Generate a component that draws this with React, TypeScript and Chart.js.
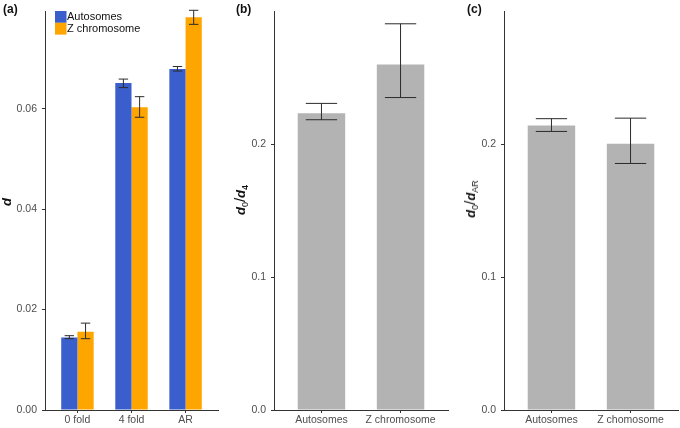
import { useEffect, useRef } from 'react'
import { Chart, registerables } from 'chart.js'

Chart.register(...registerables)

// panel (a): divergence d per site class
const foldCategories = ['0 fold', '4 fold', 'AR']
const autosomeD = [0.01445, 0.0651, 0.0679]
const autosomeLow = [0.0142, 0.0642, 0.0675]
const autosomeHigh = [0.0148, 0.0659, 0.0684]
const zChromD = [0.01557, 0.0603, 0.0782]
const zChromLow = [0.0142, 0.0583, 0.0768]
const zChromHigh = [0.0173, 0.0624, 0.0796]
const dTicks = [0, 0.02, 0.04, 0.06]

// panel (b): d0/d4
const ratio4Categories = ['Autosomes', 'Z chromosome']
const ratio4 = [0.2233, 0.2599]
const ratio4Low = [0.2184, 0.2351]
const ratio4High = [0.2307, 0.2906]

// panel (c): d0/dAR
const ratioARCategories = ['Autosomes', 'Z chomosome']
const ratioAR = [0.214, 0.2004]
const ratioARLow = [0.2096, 0.1855]
const ratioARHigh = [0.2192, 0.2196]

const ratioTicks = [0, 0.1, 0.2]

const BLUE = '#3A5FCD'
const ORANGE = '#FFA500'
const GREY = '#B3B3B3'
const FONT = '"Liberation Sans", Arial, sans-serif'

interface Series {
  label: string
  color: string
  values: number[]
  low: number[]
  high: number[]
}

interface PanelProps {
  left: number
  width: number
  yAxisWidth: number
  padRight: number
  categories: string[]
  series: Series[]
  yMax: number
  yTicks: number[]
  decimals: number
  capRatio: number
  legend?: boolean
}

const Panel = ({ left, width, yAxisWidth, padRight, categories, series, yMax, yTicks, decimals, capRatio, legend }: PanelProps) => {
  const canvasRef = useRef<HTMLCanvasElement>(null)

  useEffect(() => {
    if (!canvasRef.current) return

    const errorBars = {
      id: 'errorBars',
      afterDatasetsDraw(chart: any) {
        const { ctx } = chart
        const yScale = chart.scales.y
        ctx.save()
        ctx.strokeStyle = '#2b2b2b'
        ctx.lineWidth = 1
        series.forEach((s, di) => {
          const meta = chart.getDatasetMeta(di)
          meta.data.forEach((bar: any, i: number) => {
            const half = bar.width * capRatio
            const y1 = yScale.getPixelForValue(s.low[i])
            const y2 = yScale.getPixelForValue(s.high[i])
            ctx.beginPath()
            ctx.moveTo(bar.x, y1)
            ctx.lineTo(bar.x, y2)
            ctx.moveTo(bar.x - half, y1)
            ctx.lineTo(bar.x + half, y1)
            ctx.moveTo(bar.x - half, y2)
            ctx.lineTo(bar.x + half, y2)
            ctx.stroke()
          })
        })
        ctx.restore()
      },
    }

    const insetLegend = {
      id: 'insetLegend',
      afterDraw(chart: any) {
        if (!legend) return
        const { ctx } = chart
        const box = 11.8
        ctx.save()
        ctx.font = `11px ${FONT}`
        ctx.textBaseline = 'middle'
        chart.data.datasets.forEach((ds: any, i: number) => {
          const y = 11 + i * box
          ctx.fillStyle = ds.backgroundColor
          ctx.fillRect(55, y, 11.5, box)
          ctx.fillStyle = '#111'
          ctx.fillText(ds.label, 67, y + box / 2 + 0.5)
        })
        ctx.restore()
      },
    }

    const chart = new Chart(canvasRef.current, {
      type: 'bar',
      data: {
        datasets: series.map((s) => ({
          label: s.label,
          data: categories.map((_, i) => ({ x: i + 1, y: s.values[i] })),
          backgroundColor: s.color,
          borderWidth: 0,
          categoryPercentage: 0.6,
          barPercentage: 1,
        })),
      },
      options: {
        animation: false,
        responsive: true,
        maintainAspectRatio: false,
        layout: { padding: { top: 3, right: padRight, left: 0, bottom: 0 } },
        plugins: {
          legend: { display: false },
          tooltip: { enabled: false },
        },
        scales: {
          x: {
            type: 'linear',
            offset: false,
            min: 0.4,
            max: categories.length + 0.6,
            afterBuildTicks: (scale: any) => {
              scale.ticks = categories.map((_, i) => ({ value: i + 1 }))
            },
            afterFit: (scale: any) => {
              scale.height = 18
            },
            grid: { display: true, offset: false, drawOnChartArea: false, drawTicks: true, tickLength: 3, color: '#333' },
            border: { display: true, color: '#333', width: 1 },
            ticks: {
              padding: 1,
              color: '#4D4D4D',
              font: { family: FONT, size: 10.5 },
              maxRotation: 0,
              autoSkip: false,
              callback: (v: any) => categories[Math.round(v) - 1] ?? '',
            },
          },
          y: {
            min: 0,
            max: yMax,
            afterBuildTicks: (scale: any) => {
              scale.ticks = yTicks.map((v) => ({ value: v }))
            },
            afterFit: (scale: any) => {
              scale.width = yAxisWidth
            },
            grid: { display: true, drawOnChartArea: false, drawTicks: true, tickLength: 3, color: '#333' },
            border: { display: true, color: '#333', width: 1 },
            ticks: {
              padding: 5,
              color: '#4D4D4D',
              font: { family: FONT, size: 10.5 },
              callback: (v: any) => Number(v).toFixed(decimals),
            },
          },
        },
      },
      plugins: [errorBars, insetLegend],
    })

    return () => chart.destroy()
  }, [])

  return (
    <div style={{ position: 'absolute', left, top: 0, width, height: 428 }}>
      <canvas ref={canvasRef}></canvas>
    </div>
  )
}

const tagStyle: React.CSSProperties = {
  position: 'absolute',
  top: 2,
  fontFamily: FONT,
  fontWeight: 'bold',
  fontSize: 12,
  color: '#111',
}

const titleStyle = (cx: number, cy: number): React.CSSProperties => ({
  position: 'absolute',
  left: cx,
  top: cy,
  transform: 'translate(-50%, -50%) rotate(-90deg)',
  whiteSpace: 'nowrap',
  fontFamily: FONT,
  fontSize: 13,
  color: '#111',
  lineHeight: 1,
})

const D = () => <b><i>d</i></b>
const subStyle: React.CSSProperties = { fontSize: 9, verticalAlign: '-3px' }

const App = () => {
  return (
    <div style={{ position: 'absolute', left: 0, top: 0, width: 680, height: 428, background: '#fff', overflow: 'hidden' }}>
      <Panel
        left={0}
        width={225}
        yAxisWidth={45}
        padRight={7}
        categories={foldCategories}
        series={[
          { label: 'Autosomes', color: BLUE, values: autosomeD, low: autosomeLow, high: autosomeHigh },
          { label: 'Z chromosome', color: ORANGE, values: zChromD, low: zChromLow, high: zChromHigh },
        ]}
        yMax={0.0794}
        yTicks={dTicks}
        decimals={2}
        capRatio={0.29}
        legend
      />
      <Panel
        left={228}
        width={224}
        yAxisWidth={46}
        padRight={4}
        categories={ratio4Categories}
        series={[{ label: 'd0/d4', color: GREY, values: ratio4, low: ratio4Low, high: ratio4High }]}
        yMax={0.3}
        yTicks={ratioTicks}
        decimals={1}
        capRatio={0.33}
      />
      <Panel
        left={458}
        width={222}
        yAxisWidth={46}
        padRight={2}
        categories={ratioARCategories}
        series={[{ label: 'd0/dAR', color: GREY, values: ratioAR, low: ratioARLow, high: ratioARHigh }]}
        yMax={0.3}
        yTicks={ratioTicks}
        decimals={1}
        capRatio={0.33}
      />

      <div style={{ ...tagStyle, left: 3 }}>(a)</div>
      <div style={{ ...tagStyle, left: 236 }}>(b)</div>
      <div style={{ ...tagStyle, left: 467 }}>(c)</div>

      <div style={titleStyle(6, 202)}>
        <D />
      </div>
      <div style={titleStyle(241, 200)}>
        <D />
        <span style={subStyle}>0</span>
        <span style={{ fontSize: 15 }}>/</span>
        <D />
        <span style={{ ...subStyle, fontWeight: 'bold' }}>4</span>
      </div>
      <div style={titleStyle(471, 199)}>
        <D />
        <span style={subStyle}>0</span>
        <span style={{ fontSize: 15 }}>/</span>
        <D />
        <span style={subStyle}>AR</span>
      </div>
    </div>
  )
}

export default App
